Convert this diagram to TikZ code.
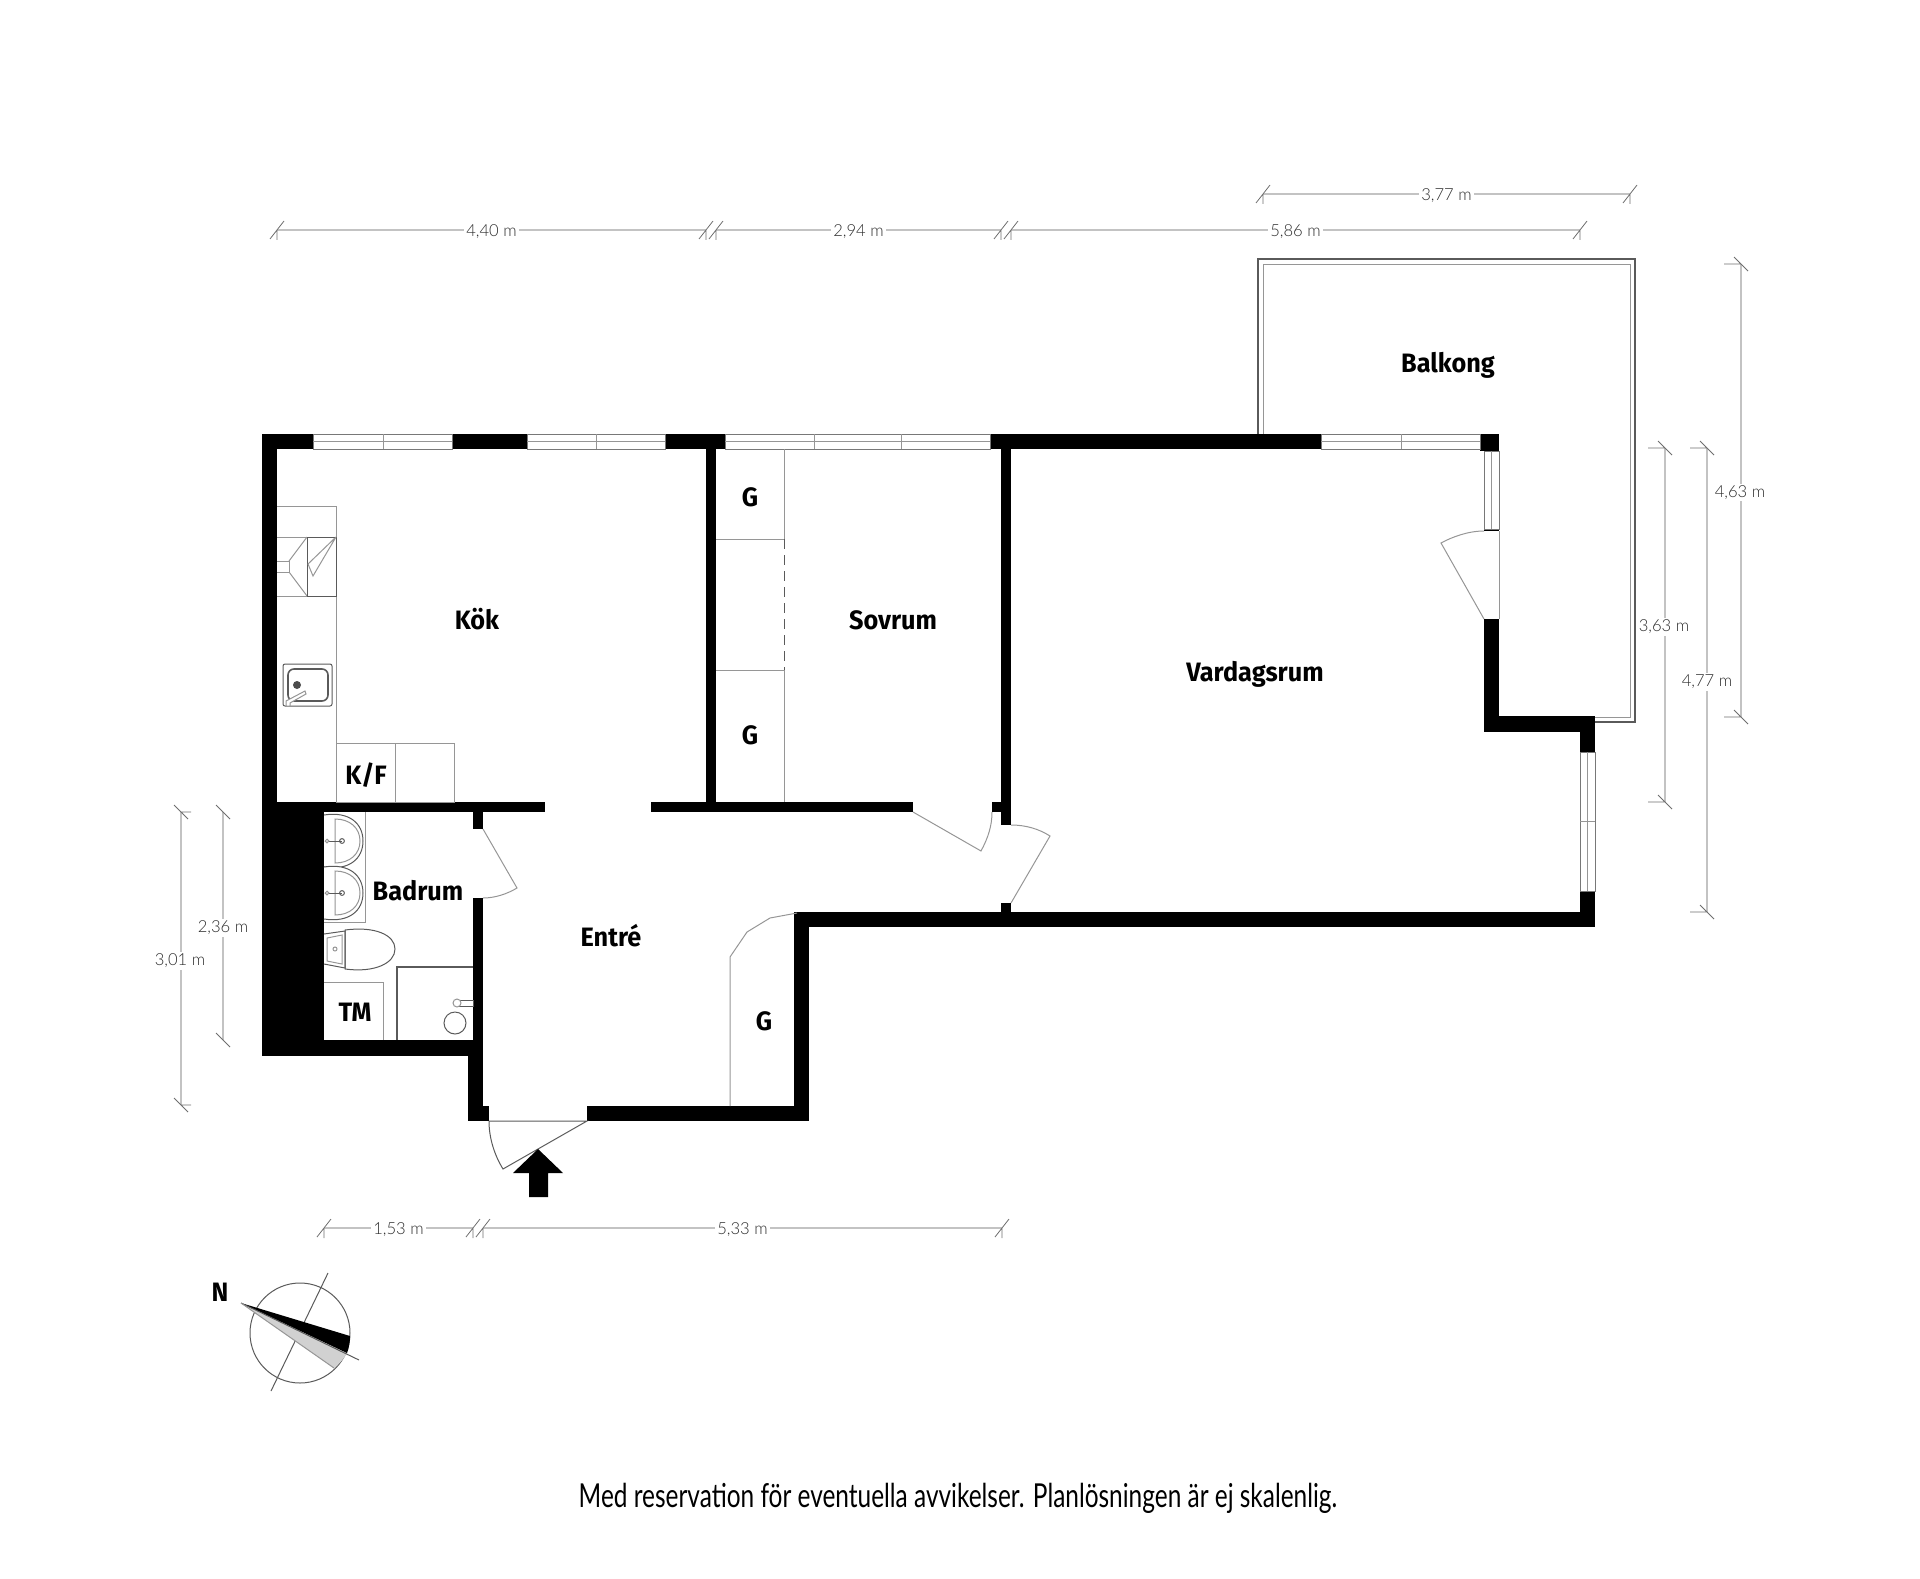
\documentclass[tikz,border=0pt]{standalone}
\usepackage{fontspec}
\usetikzlibrary{calc}
\setmainfont{Fira Sans}[FakeStretch=0.95]
\newfontfamily\dimfont{Lato Light}
\newfontfamily\notefont{Lato}[FakeStretch=0.74]
\tikzset{every picture/.style={line width=0.5pt},
  wall/.style={fill=black,draw=none},
  thin/.style={draw={rgb,255:red,150;green,150;blue,150},line width=0.5pt},
  dark/.style={draw={rgb,255:red,90;green,90;blue,90},line width=0.5pt},
  winbox/.style={draw={rgb,255:red,120;green,120;blue,120},line width=0.5pt,fill=white},
  dimline/.style={draw={rgb,255:red,195;green,195;blue,195},line width=0.8pt},
  dimtick/.style={draw={rgb,255:red,110;green,110;blue,110},line width=0.4pt},
  dimlabel/.style={fill=white,inner sep=1pt,font=\dimfont\fontsize{8.3}{10}\selectfont,text={rgb,255:red,45;green,45;blue,45}},
  roomlabel/.style={inner sep=0pt,font=\bfseries\fontsize{13.3}{16}\selectfont}}
\newcommand{\hdim}[5]{% x1, x2, y, name, text
  \coordinate (#4a) at (#1,#3);
  \coordinate (#4b) at (#2,#3);
  \draw[dimline] (#4a) -- (#4b);
  \draw[dimtick] ([xshift=-3.5pt,yshift=4.5pt]#4a) -- ([xshift=3.5pt,yshift=-4.5pt]#4a) (#4a) -- ([yshift=5pt]#4a);
  \draw[dimtick] ([xshift=-3.5pt,yshift=4.5pt]#4b) -- ([xshift=3.5pt,yshift=-4.5pt]#4b) (#4b) -- ([yshift=5pt]#4b);
  \node[dimlabel] (#4) at ($(#4a)!0.5!(#4b)+(0,1.5)$) {#5};}
\newcommand{\vdim}[5]{% x, y1, y2, name, tick length
  \coordinate (#4a) at (#1,#2);
  \coordinate (#4b) at (#1,#3);
  \draw[dimline] (#4a) -- (#4b);
  \draw[dimtick] ([xshift=-3.5pt,yshift=-3.5pt]#4a) -- ([xshift=3.5pt,yshift=3.5pt]#4a) (#4a) -- ([xshift=#5]#4a);
  \draw[dimtick] ([xshift=-3.5pt,yshift=-3.5pt]#4b) -- ([xshift=3.5pt,yshift=3.5pt]#4b) (#4b) -- ([xshift=#5]#4b);}
\begin{document}
\begin{tikzpicture}[x=0.5pt,y=0.5pt,yscale=-1,xscale=1]
    \useasboundingbox (0,0) rectangle (1920,1578);

    %Balcony
    \draw [dark,line width=0.8pt] (1258,434) -- (1258,259) -- (1635,259) -- (1635,722) -- (1595,722);
    \draw [thin] (1263,434) -- (1263,264) -- (1630,264) -- (1630,717) -- (1595,717);

    %Outer walls
    \fill [wall] (262,434) rectangle (313,449);
    \fill [wall] (262,434) rectangle (277,812);
    \fill [wall] (452,434) rectangle (527,449);
    \fill [wall] (665,434) rectangle (725,449);
    \fill [wall] (990,434) rectangle (1321,449);
    \fill [wall] (1480,434) rectangle (1499,451);
    \fill [wall] (706,449) rectangle (716,802);
    \fill [wall] (1001,449) rectangle (1011,825);
    \fill [wall] (277,802) rectangle (545,812);
    \fill [wall] (651,802) rectangle (913,812);
    \fill [wall] (992,802) rectangle (1001,812);
    \fill [wall] (1001,903) rectangle (1011,912);
    \fill [wall] (262,812) rectangle (324,1056);
    \fill [wall] (324,1040) rectangle (483,1056);
    \fill [wall] (473,812) rectangle (483,829);
    \fill [wall] (473,898) rectangle (483,1040);
    \fill [wall] (468,1056) rectangle (483,1121);
    \fill [wall] (468,1106) rectangle (489,1121);
    \fill [wall] (587,1106) rectangle (809,1121);
    \fill [wall] (794,912) rectangle (809,1121);
    \fill [wall] (794,912) rectangle (1595,927);
    \fill [wall] (1580,891) rectangle (1595,927);
    \fill [wall] (1580,716) rectangle (1595,752);
    \fill [wall] (1484,716) rectangle (1595,732);
    \fill [wall] (1484,619) rectangle (1499,732);
    \fill [wall] (1484,529) rectangle (1499,531);

    %Windows
    \draw [winbox] (313,434) rectangle (452,449);
    \draw [thin] (313,441.5) -- (452,441.5) (383,434) -- (383,449);
    \draw [winbox] (527,434) rectangle (665,449);
    \draw [thin] (527,441.5) -- (665,441.5) (596,434) -- (596,449);
    \draw [winbox] (725,434) rectangle (990,449);
    \draw [thin] (725,441.5) -- (990,441.5) (814,434) -- (814,449) (901,434) -- (901,449);
    \draw [winbox] (1321,434) rectangle (1480,449);
    \draw [thin] (1321,441.5) -- (1480,441.5) (1401,434) -- (1401,449);
    \draw [winbox] (1484,451) rectangle (1499,529);
    \draw [thin] (1491.5,451) -- (1491.5,529);
    \draw [winbox] (1580,752) rectangle (1595,891);
    \draw [thin] (1587.5,752) -- (1587.5,891) (1580,821) -- (1595,821);

    %Doors
    \draw [thin] (1499,531) -- (1499,619);
    \draw [thin] (1484,619) -- (1441,543) .. controls (1452,537) and (1468,531) .. (1484,531);
    \draw [thin] (913,812) -- (981,851) .. controls (988,838) and (992,826) .. (992,812);
    \draw [thin] (1011,825) .. controls (1026,825) and (1039,829) .. (1050,836) -- (1011,903);
    \draw [thin] (483,829) -- (517,888) .. controls (507,894) and (495,898) .. (483,898);
    \draw [dark] (489,1121) -- (587,1121) -- (503,1169) .. controls (495,1156) and (489,1139) .. (489,1121);
    \draw [thin] (730,1106) -- (730,957) -- (747,932) -- (770,918) -- (797,913);

    %Entrance arrow
    \fill [black] (538,1149) -- (563,1173) -- (548,1173) -- (548,1197) -- (529,1197) -- (529,1173) -- (513,1173) -- cycle;

    %Kitchen
    \draw [thin] (277,506) -- (336,506) -- (336,802);
    \draw [thin] (277,537) -- (307,537) (277,596) -- (307,596);
    \draw [thin] (277,561) -- (289,561) -- (289,572) -- (277,572);
    \draw [thin] (289,561) -- (307,537) (289,572) -- (307,596);
    \draw [dark] (307,537) rectangle (336,596);
    \draw [thin] (336,537) -- (308,564) -- (313,576) -- (336,537);
    \draw [thin] (336,743) rectangle (454,802);
    \draw [thin] (395,743) -- (395,802);
    %Sink
    \draw [dark,rounded corners=1pt] (283,664) rectangle (332,706);
    \draw [dark,rounded corners=3pt,line width=0.8pt] (288,669) rectangle (328,701);
    \fill [black!70] (297,685) circle (2pt);
    \draw [thin,fill=white] (286,701) -- (305,691) -- (306,694) -- (290,703) -- (290,706) -- (286,706) -- cycle;

    %Wardrobes
    \draw [thin] (784,449) -- (784,539) (784,670) -- (784,802);
    \draw [dark,dash pattern=on 5pt off 3pt] (784,539) -- (784,670);
    \draw [thin] (716,539) -- (784,539) (716,670) -- (784,670);

    %Bathroom
    \draw [thin] (324,922) -- (365,922) -- (365,812);
    \draw [dark,fill=white] (324,815) .. controls (350,811) and (363,824) .. (363,841) .. controls (363,858) and (350,871) .. (324,867);
    \draw [dark,fill=white] (324,867) .. controls (350,863) and (363,876) .. (363,893) .. controls (363,910) and (350,923) .. (324,919);
    \draw [thin] (335,819) .. controls (350,819) and (360,828) .. (360,841) .. controls (360,854) and (350,863) .. (335,863) -- cycle;
    \draw [thin] (335,871) .. controls (350,871) and (360,880) .. (360,893) .. controls (360,906) and (350,915) .. (335,915) -- cycle;
    \draw [dark] (329,841) -- (342,841) (329,893) -- (342,893);
    \draw [dark] (342,841) circle (1.2pt) (342,893) circle (1.2pt);
    \draw [thin] (327,841) circle (0.9pt) (327,893) circle (0.9pt);
    %Toilet
    \draw [dark] (345,930) .. controls (375,926) and (395,935) .. (395,949) .. controls (395,963) and (375,973) .. (345,969) -- cycle;
    \draw [dark] (324,934) -- (345,931) -- (345,968) -- (324,964);
    \draw [thin] (327,938) -- (342,935) -- (342,964) -- (327,961) -- cycle;
    \draw [thin] (335,949) circle (1pt);
    %Washing machine and shower
    \draw [thin] (324,982) -- (383,982) -- (383,1040);
    \draw [dark,line width=0.9pt] (397,1040) -- (397,967) -- (473,967);
    \draw [dark] (455,1023) circle (5.5pt);
    \draw [dark] (458,1000) rectangle (473,1006);
    \draw [thin,fill=white] (457,1003) circle (2pt);

    %Dimensions
    \hdim{277}{706}{230}{dimkok}{4,40 m}
    \hdim{716}{1001}{230}{dimsov}{2,94 m}
    \hdim{1011}{1580}{230}{dimvar}{5,86 m}
    \hdim{1263}{1630}{194}{dimbal}{3,77 m}
    \hdim{324}{473}{1228}{dimbad}{1,53 m}
    \hdim{483}{1002}{1228}{diment}{5,33 m}
    \vdim{181}{812}{1105}{dimwest}{5pt}
    \vdim{223}{812}{1040}{dimbadv}{0pt}
    \vdim{1665}{448}{802}{dimsovv}{-8.5pt}
    \vdim{1707}{448}{912}{dimvarv}{-8.5pt}
    \vdim{1741}{264}{717}{dimbalv}{-8.5pt}
    \node [dimlabel] (lwest) at (180,961) {3,01 m};
    \node [dimlabel] (lbadv) at (223,928) {2,36 m};
    \node [dimlabel] (lsovv) at (1664,627) {3,63 m};
    \node [dimlabel] (lvarv) at (1707,682) {4,77 m};
    \node [dimlabel] (lbalv) at (1740,492.5) {4,63 m};

    %Compass
    \draw [dark] (300,1333) circle (25pt);
    \draw [dark] (328,1273) -- (271,1391);
    \fill [black!18] (241,1303) -- (347,1353) .. controls (343,1360) and (339,1364) .. (334,1368) -- cycle;
    \fill [black] (241,1303) -- (350,1336) .. controls (350,1342) and (349,1348) .. (347,1353) -- cycle;
    \draw [dark] (241,1303) -- (359,1360);
    \draw [thin] (241,1303) -- (334,1368);

    %Rooms
    \node [roomlabel] (kok) at (477,619) {Kök};
    \node [roomlabel] (kf) at (366,775) {K/F};
    \node [roomlabel] (sovrum) at (893,620) {Sovrum};
    \node [roomlabel] (ga) at (750,497) {G};
    \node [roomlabel] (gb) at (750,735) {G};
    \node [roomlabel] (gc) at (764,1021) {G};
    \node [roomlabel] (vardagsrum) at (1255,674.5) {Vardagsrum};
    \node [roomlabel] (balkong) at (1448,365.5) {Balkong};
    \node [roomlabel] (badrum) at (418,891) {Badrum};
    \node [roomlabel] (entre) at (611,936) {Entré};
    \node [roomlabel] (tm) at (355,1012) {TM};
    \node [roomlabel] (north) at (220,1292) {N};
    \node [inner sep=0pt,font=\notefont\fontsize{16.5}{20}\selectfont] (note) at (958,1498) {Med reservation för eventuella avvikelser. Planlösningen är ej skalenlig.};
\end{tikzpicture}
\end{document}
